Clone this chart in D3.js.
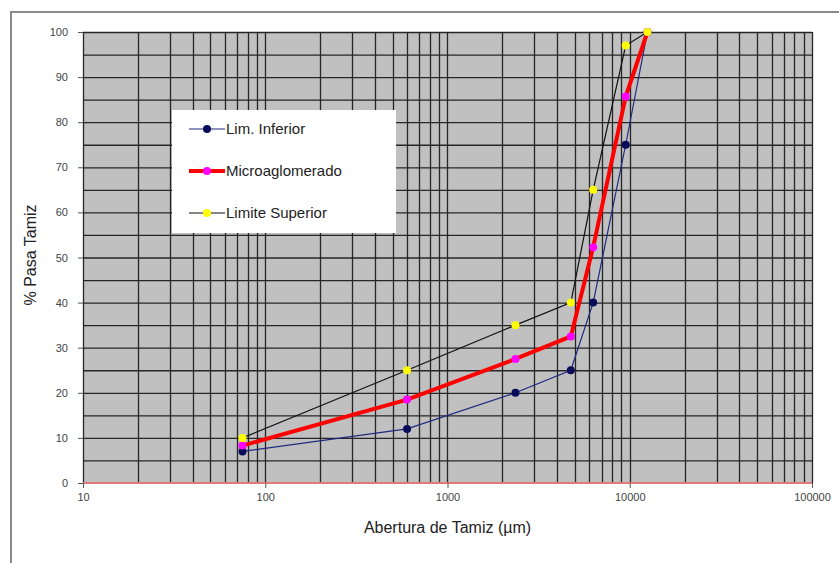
<!DOCTYPE html>
<html>
<head>
<meta charset="utf-8">
<script src="https://cdn.jsdelivr.net/npm/d3@7"></script>
<style>
  body { margin: 0; background: #fff; }
  svg { display: block; font-family: "Liberation Sans", Arial, sans-serif; }
</style>
</head>
<body>
<div id="chart"></div>
<script>
// sieve openings (µm)
var sieves = [75, 600, 2360, 4750, 6300, 9500, 12500];
var limInferior = [7, 12, 20, 25, 40, 75, 100];
var microaglomerado = [8.3, 18.5, 27.5, 32.5, 52.3, 85.7, 100];
var limSuperior = [10, 25, 35, 40, 65, 97, 100];
var xTicks = [10, 100, 1000, 10000, 100000];
var yTicks = [0, 10, 20, 30, 40, 50, 60, 70, 80, 90, 100];

var width = 839, height = 563;
var margin = {top: 32, right: 27, bottom: 80, left: 83};

var svg = d3.select("#chart").append("svg")
  .attr("width", width).attr("height", height);

// outer chart frame (cropped)
svg.append("path")
  .attr("d", `M11,${height} L11,12 L${width},12`)
  .attr("fill", "none").attr("stroke", "#8a8a8a").attr("stroke-width", 2);

var x = d3.scaleLog().domain([10, 100000]).range([margin.left, width - margin.right]);
var y = d3.scaleLinear().domain([0, 100]).range([height - margin.bottom, margin.top]);

// plot area
svg.append("rect")
  .attr("x", x(10)).attr("y", y(100))
  .attr("width", x(100000) - x(10)).attr("height", y(0) - y(100))
  .attr("fill", "#c0c0c0");

// horizontal grid every 5
var hGrid = d3.range(5, 101, 5);
svg.append("g").selectAll("line").data(hGrid).join("line")
  .attr("x1", x(10)).attr("x2", x(100000))
  .attr("y1", d => y(d) + 0.5).attr("y2", d => y(d) + 0.5)
  .attr("stroke", "#262626").attr("stroke-width", 1.3);

// vertical grid at 1..9 x 10^k
var vGrid = [];
for (var k = 1; k < 5; k++) {
  for (var m = 1; m < 10; m++) vGrid.push(m * Math.pow(10, k));
}
vGrid.push(100000);
svg.append("g").selectAll("line").data(vGrid).join("line")
  .attr("x1", d => Math.round(x(d)) + 0.5).attr("x2", d => Math.round(x(d)) + 0.5)
  .attr("y1", y(100)).attr("y2", y(0))
  .attr("stroke", "#262626").attr("stroke-width", 1.3);

// x axis line (red-ish)
svg.append("line")
  .attr("x1", x(10)).attr("x2", x(100000))
  .attr("y1", y(0)).attr("y2", y(0))
  .attr("stroke", "#e07a7a").attr("stroke-width", 2);

// axes
var yAxis = g => g
  .attr("transform", `translate(${x(10)},0)`)
  .call(d3.axisLeft(y).tickValues(yTicks).tickSize(5).tickPadding(10))
  .call(g => g.select(".domain").remove())
  .call(g => g.selectAll(".tick line").attr("stroke", "#555"))
  .call(g => g.selectAll(".tick text").attr("fill", "#444").attr("font-size", 11)
    .attr("font-family", "Liberation Sans, Arial, sans-serif"));

var xAxis = g => g
  .attr("transform", `translate(0,${y(0)})`)
  .call(d3.axisBottom(x).tickValues(xTicks).tickFormat(d3.format("d")).tickSize(5).tickPadding(5))
  .call(g => g.select(".domain").remove())
  .call(g => g.selectAll(".tick line").attr("stroke", "#555"))
  .call(g => g.selectAll(".tick text").attr("fill", "#444").attr("font-size", 11)
    .attr("font-family", "Liberation Sans, Arial, sans-serif"));

svg.append("g").call(yAxis);
svg.append("g").call(xAxis);

// axis titles
svg.append("text")
  .attr("x", x(1000)).attr("y", 533)
  .attr("text-anchor", "middle").attr("font-size", 16).attr("fill", "#222")
  .text("Abertura de Tamiz (µm)");

svg.append("text")
  .attr("transform", "translate(36,255) rotate(-90)")
  .attr("text-anchor", "middle").attr("font-size", 16).attr("fill", "#222")
  .text("% Pasa Tamiz");

// series
var series = [
  {name: "Lim. Inferior", values: limInferior, line: "#1f2a80", width: 1.2, marker: "#0a0a5a", r: 4},
  {name: "Microaglomerado", values: microaglomerado, line: "#ff0000", width: 4, marker: "#ff00ff", r: 4},
  {name: "Limite Superior", values: limSuperior, line: "#111", width: 1.2, marker: "#ffff00", r: 4}
];

var line = d3.line()
  .x(d => x(d[0]))
  .y(d => y(d[1]));

var g = svg.append("g");
series.forEach(function(s) {
  var pts = sieves.map((v, i) => [v, s.values[i]]);
  g.append("path")
    .attr("d", line(pts))
    .attr("fill", "none")
    .attr("stroke", s.line)
    .attr("stroke-width", s.width);
});
series.forEach(function(s) {
  var pts = sieves.map((v, i) => [v, s.values[i]]);
  g.selectAll(null).data(pts).join("circle")
    .attr("cx", d => x(d[0])).attr("cy", d => y(d[1]))
    .attr("r", s.r).attr("fill", s.marker);
});

// legend
var legend = svg.append("g").attr("transform", "translate(172,110)");
legend.append("rect")
  .attr("width", 224).attr("height", 123)
  .attr("fill", "#fff");
series.forEach(function(s, i) {
  var ly = 19 + i * 42;
  legend.append("line")
    .attr("x1", 17).attr("x2", 53).attr("y1", ly).attr("y2", ly)
    .attr("stroke", s.line).attr("stroke-width", s.width);
  legend.append("circle")
    .attr("cx", 35).attr("cy", ly).attr("r", s.r).attr("fill", s.marker);
  legend.append("text")
    .attr("x", 54).attr("y", ly + 5)
    .attr("font-size", 15).attr("fill", "#222")
    .text(s.name);
});
</script>
</body>
</html>
